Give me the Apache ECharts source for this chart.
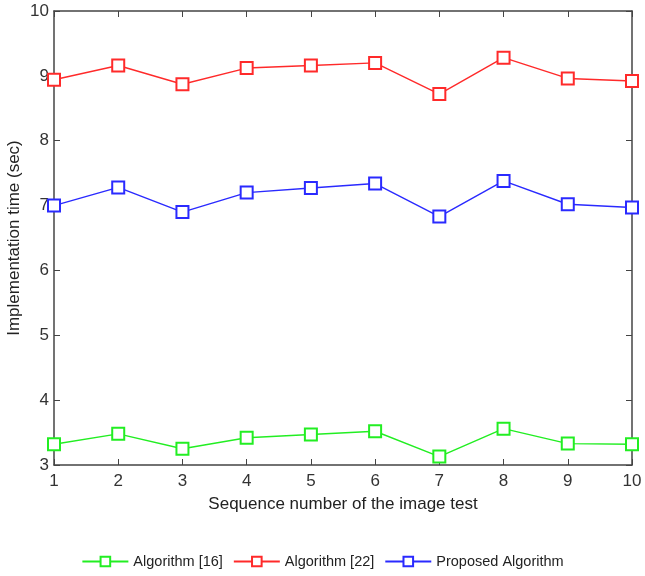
<!DOCTYPE html>
<html>
<head>
<meta charset="utf-8">
<script src="https://cdn.jsdelivr.net/npm/echarts@6/dist/echarts.min.js"></script>
<style>
  html, body { margin: 0; padding: 0; background: #fff; }
  #chart { width: 645px; height: 576px; }
</style>
</head>
<body>
<div id="chart"></div>
<script>
// sequence number of the image test
var seqNo = [1, 2, 3, 4, 5, 6, 7, 8, 9, 10];
var alg16 = [3.32, 3.48, 3.25, 3.42, 3.47, 3.52, 3.13, 3.56, 3.33, 3.32];
var alg22 = [8.94, 9.16, 8.87, 9.12, 9.16, 9.20, 8.72, 9.28, 8.96, 8.92];
var proposed = [7.00, 7.28, 6.90, 7.20, 7.27, 7.34, 6.83, 7.38, 7.02, 6.97];
var seriesNames = ['Algorithm [16]', 'Algorithm [22]', 'Proposed Algorithm'];

var chart = echarts.init(document.getElementById('chart'));

function pairs(vals) {
  return vals.map(function (v, i) { return [seqNo[i], v]; });
}

var axisCol = '#444';
var font = 'Liberation Sans, Arial, sans-serif';

function mkSeries(name, vals, color) {
  return {
    name: name,
    type: 'line',
    data: pairs(vals),
    symbol: 'emptyRect',
    symbolSize: 12,
    showAllSymbol: true,
    lineStyle: { color: color, width: 1.4 },
    itemStyle: { color: color, borderColor: color, borderWidth: 1.5 },
    animation: false,
    z: 3
  };
}

var option = {
  backgroundColor: '#fff',
  grid: { left: 54, right: 13, top: 11, bottom: 111, outerBoundsMode: 'none', containLabel: false },
  legend: {
    bottom: 2,
    left: 'center',
    itemWidth: 46,
    itemHeight: 12,
    itemGap: 10,
    textStyle: { fontFamily: font, fontSize: 14.5, color: '#222' },
    data: seriesNames
  },
  xAxis: [{
    type: 'value', min: 1, max: 10, interval: 1,
    name: 'Sequence number of the image test',
    nameLocation: 'middle', nameGap: 31,
    nameTextStyle: { fontFamily: font, fontSize: 17, color: '#222' },
    axisLine: { lineStyle: { color: axisCol, width: 1.5 } },
    axisTick: { inside: true, length: 6, lineStyle: { color: axisCol } },
    axisLabel: { fontFamily: font, fontSize: 17, color: '#333', margin: 8 },
    splitLine: { show: false }
  }, {
    type: 'value', min: 1, max: 10, interval: 1, position: 'top',
    axisLine: { lineStyle: { color: axisCol, width: 1.5 } },
    axisTick: { inside: true, length: 6, lineStyle: { color: axisCol } },
    axisLabel: { show: false },
    splitLine: { show: false }
  }],
  yAxis: [{
    type: 'value', min: 3, max: 10, interval: 1,
    name: 'Implementation time (sec)',
    nameLocation: 'middle', nameGap: 31, nameMoveOverlap: false,
    nameTextStyle: { fontFamily: font, fontSize: 17, color: '#222' },
    axisLine: { show: true, lineStyle: { color: axisCol, width: 1.5 } },
    axisTick: { show: true, inside: true, length: 6, lineStyle: { color: axisCol } },
    axisLabel: { fontFamily: font, fontSize: 17, color: '#333', margin: 5 },
    splitLine: { show: false }
  }, {
    type: 'value', min: 3, max: 10, interval: 1, position: 'right',
    axisLine: { show: true, lineStyle: { color: axisCol, width: 1.5 } },
    axisTick: { show: true, inside: true, length: 6, lineStyle: { color: axisCol } },
    axisLabel: { show: false },
    splitLine: { show: false }
  }],
  series: [
    mkSeries(seriesNames[0], alg16, '#22ee22'),
    mkSeries(seriesNames[1], alg22, '#ff2a2a'),
    mkSeries(seriesNames[2], proposed, '#2a2aff')
  ]
};

chart.setOption(option);
</script>
</body>
</html>
